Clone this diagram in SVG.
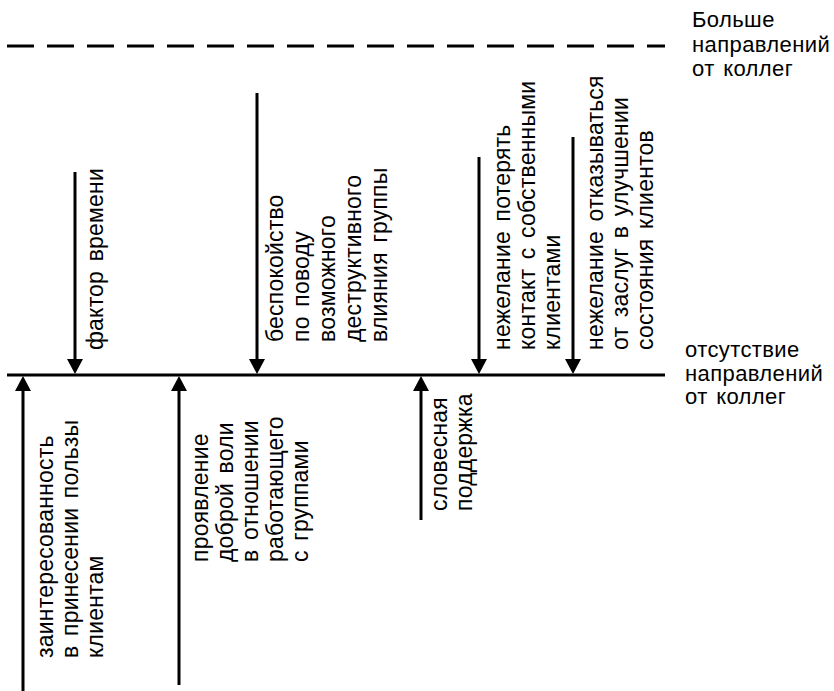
<svg xmlns="http://www.w3.org/2000/svg" width="834" height="691" viewBox="0 0 834 691">
<defs>
<marker id="ah" viewBox="0 0 15 16" refX="1" refY="8" markerWidth="15" markerHeight="16" markerUnits="userSpaceOnUse" orient="auto">
<path d="M0,0 L15,8 L0,16 z" fill="#000"/>
</marker>
<style>
.lbl{font-family:"Liberation Sans",Arial,sans-serif;font-size:23px;letter-spacing:0.2px;word-spacing:3px;fill:#000}
.side{font-family:"Liberation Sans",Arial,sans-serif;font-size:22px;letter-spacing:0.4px;word-spacing:2px;fill:#000}
.ar{stroke:#000;stroke-width:3;fill:none;marker-end:url(#ah)}
.ax{stroke:#000;stroke-width:3;fill:none}
</style>
</defs>
<rect width="834" height="691" fill="#fff"/>
<g id="connectors">
<line class="ax" x1="7" y1="46" x2="665" y2="46" stroke-dasharray="27 13"/>
<line class="ax" x1="7" y1="375" x2="665" y2="375"/>
<line class="ar" x1="23" y1="691" x2="23" y2="390"/>
<line class="ar" x1="179" y1="685" x2="179" y2="390"/>
<line class="ar" x1="421" y1="520" x2="421" y2="390"/>
<line class="ar" x1="75" y1="172" x2="75" y2="360"/>
<line class="ar" x1="257" y1="93" x2="257" y2="360"/>
<line class="ar" x1="479" y1="157" x2="479" y2="360"/>
<line class="ar" x1="573" y1="137" x2="573" y2="360"/>
</g>
<g id="more">
<text class="side"><tspan x="692" y="27">Больше</tspan><tspan x="692" y="51.5">направлений</tspan><tspan x="692" y="76">от коллег</tspan></text>
</g>
<g id="none">
<text class="side"><tspan x="685" y="357">отсутствие</tspan><tspan x="685" y="380.5">направлений</tspan><tspan x="685" y="404">от коллег</tspan></text>
</g>
<g id="interest">
<text class="lbl" transform="translate(53,658) rotate(-90)"><tspan x="0" y="0">заинтересованность</tspan><tspan x="0" y="25">в принесении пользы</tspan><tspan x="0" y="50">клиентам</tspan></text>
</g>
<g id="goodwill">
<text class="lbl" transform="translate(208,562) rotate(-90)"><tspan x="0" y="0">проявление</tspan><tspan x="0" y="25">доброй воли</tspan><tspan x="0" y="50">в отношении</tspan><tspan x="0" y="75">работающего</tspan><tspan x="0" y="100">с группами</tspan></text>
</g>
<g id="verbal">
<text class="lbl" transform="translate(447,511) rotate(-90)"><tspan x="0" y="0">словесная</tspan><tspan x="0" y="25">поддержка</tspan></text>
</g>
<g id="time">
<text class="lbl" transform="translate(103,350) rotate(-90)"><tspan x="0" y="0">фактор времени</tspan></text>
</g>
<g id="worry">
<text class="lbl" transform="translate(283,342) rotate(-90)"><tspan x="0" y="0">беспокойство</tspan><tspan x="0" y="26">по поводу</tspan><tspan x="0" y="52">возможного</tspan><tspan x="0" y="78">деструктивного</tspan><tspan x="0" y="104">влияния группы</tspan></text>
</g>
<g id="contact">
<text class="lbl" transform="translate(510,350) rotate(-90)"><tspan x="0" y="0">нежелание потерять</tspan><tspan x="0" y="25">контакт с собственными</tspan><tspan x="0" y="50">клиентами</tspan></text>
</g>
<g id="merit">
<text class="lbl" transform="translate(603,350) rotate(-90)"><tspan x="0" y="0">нежелание отказываться</tspan><tspan x="0" y="25">от заслуг в улучшении</tspan><tspan x="0" y="50">состояния клиентов</tspan></text>
</g>
</svg>
